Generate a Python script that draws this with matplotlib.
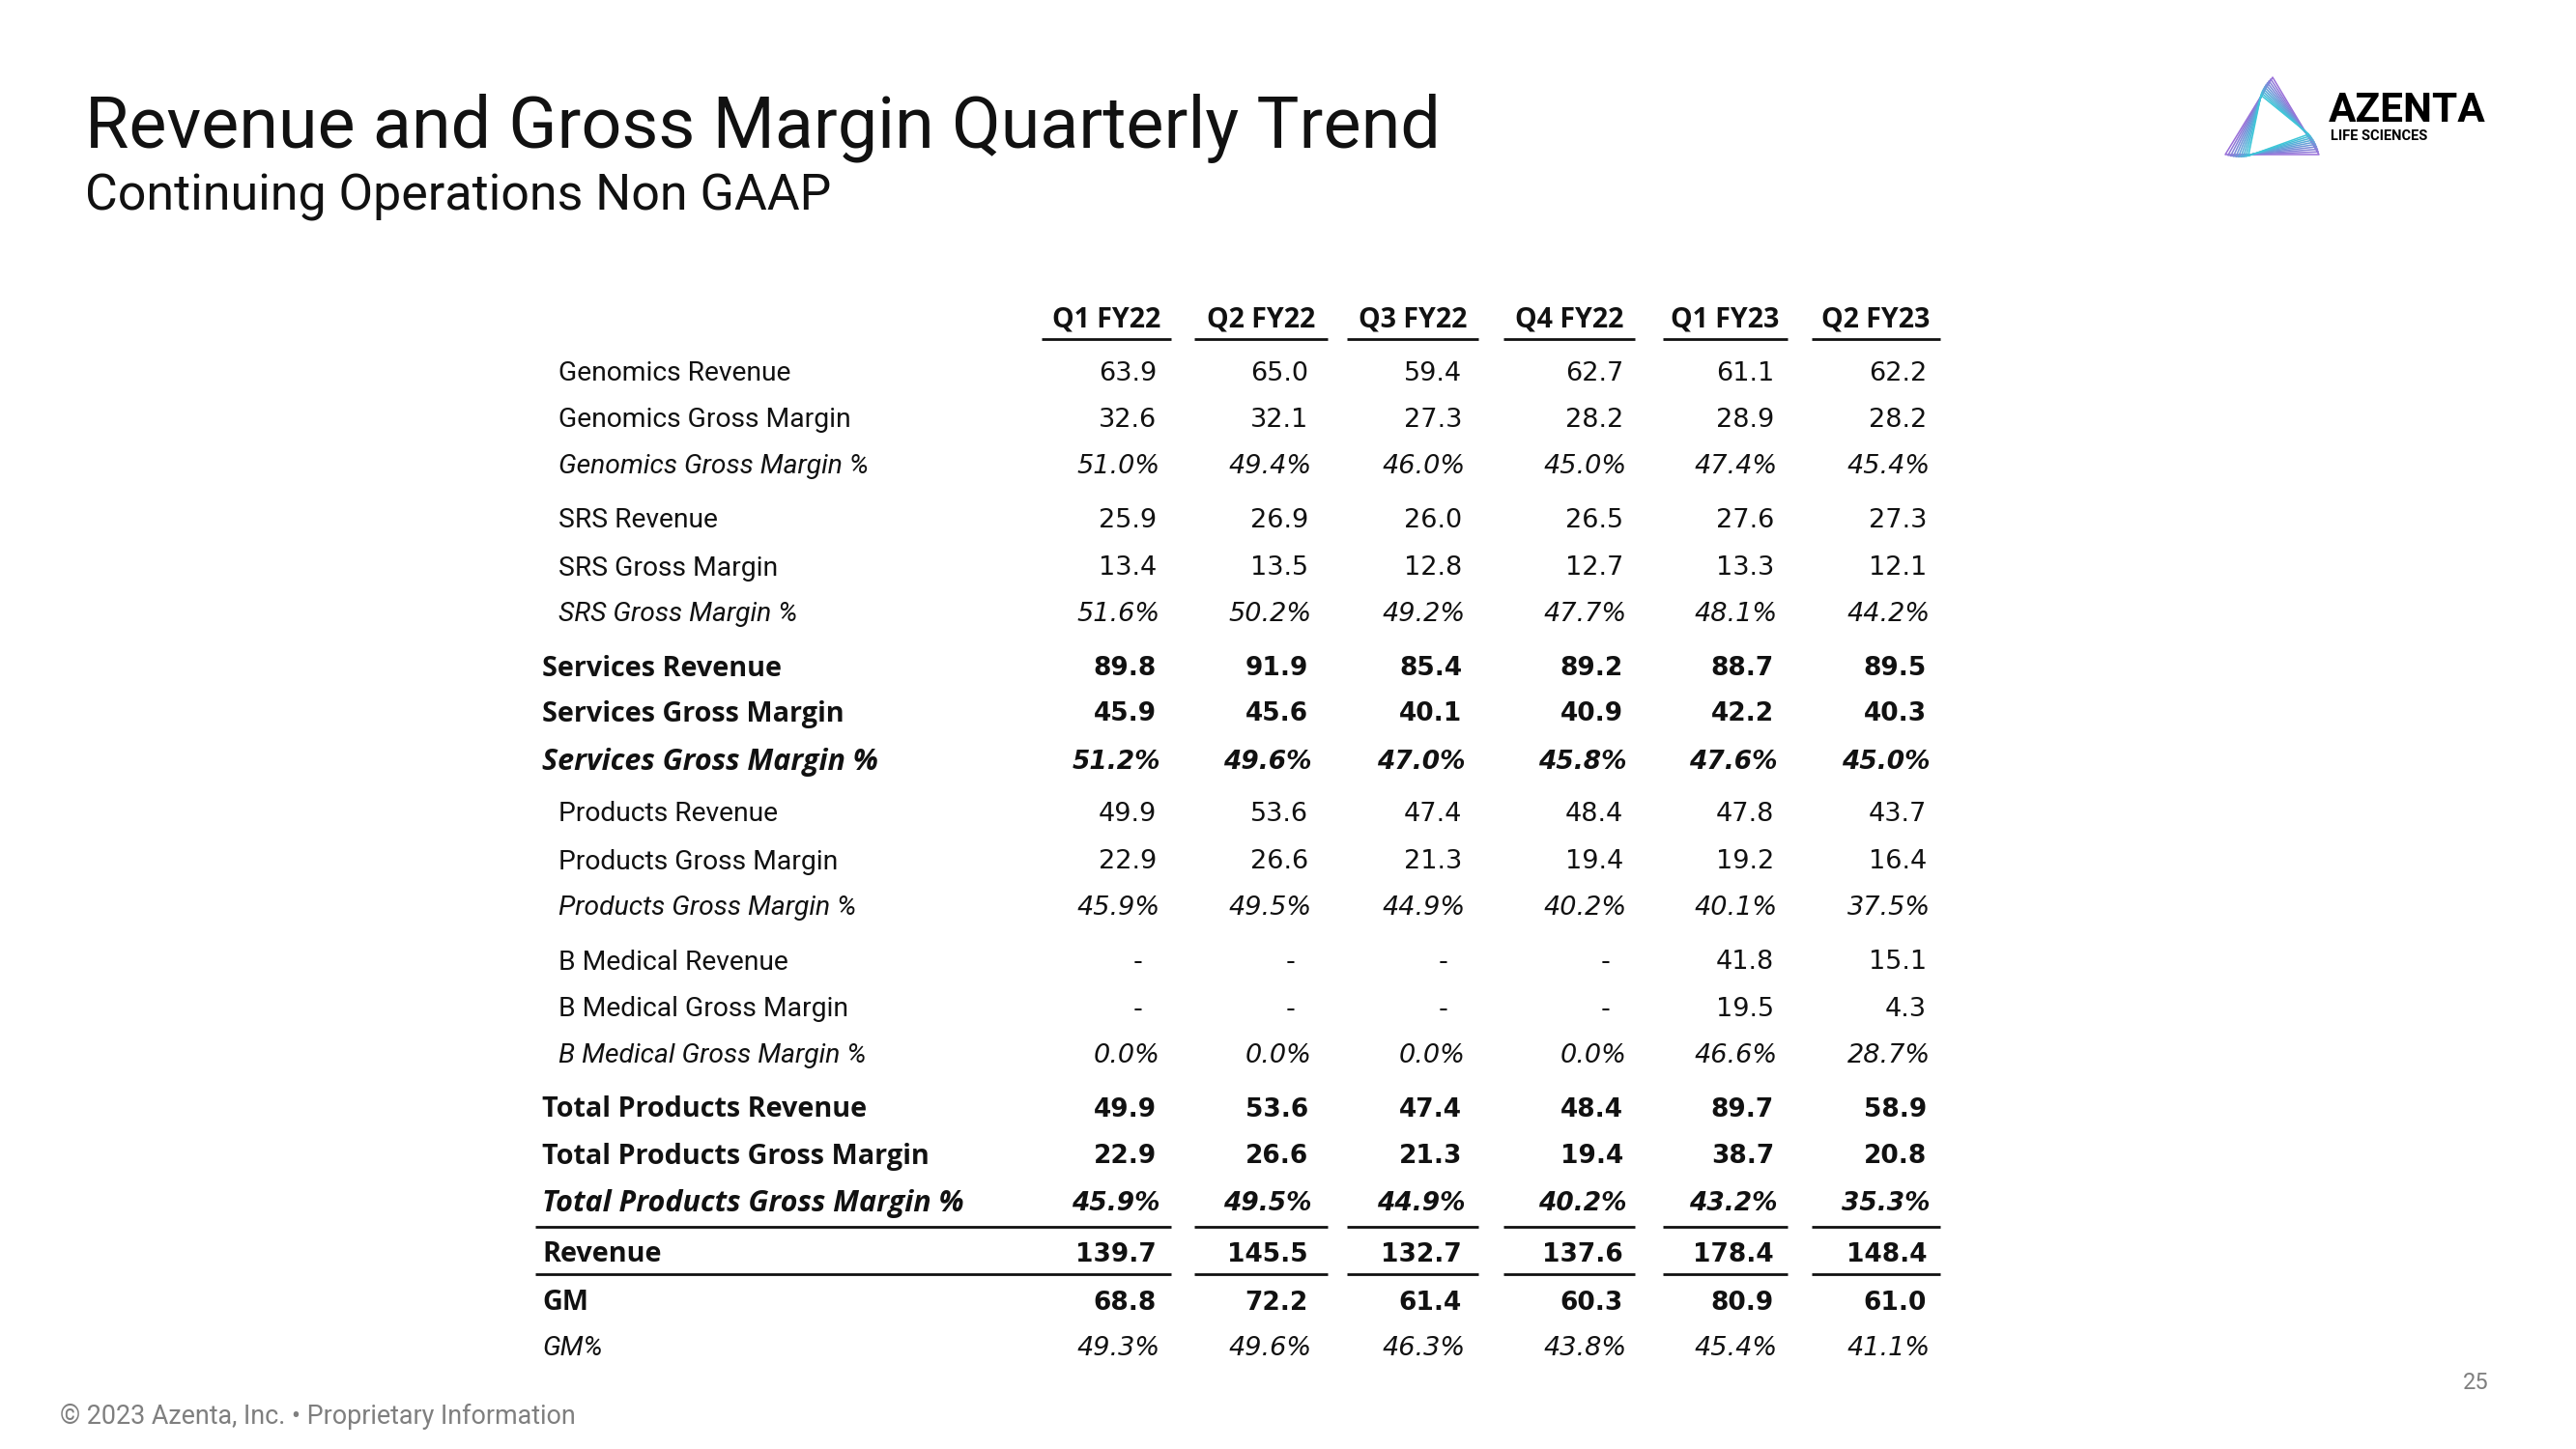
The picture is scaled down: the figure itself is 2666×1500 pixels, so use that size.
import numpy as np
import matplotlib
matplotlib.use("Agg")
import matplotlib.pyplot as plt
from matplotlib.patches import Polygon

plt.rcParams['font.family'] = ['Roboto', 'DejaVu Sans']

# ---------------- data ----------------
quarters = ["Q1 FY22", "Q2 FY22", "Q3 FY22", "Q4 FY22", "Q1 FY23", "Q2 FY23"]

genomics_rev = [63.9, 65.0, 59.4, 62.7, 61.1, 62.2]
genomics_gm = [32.6, 32.1, 27.3, 28.2, 28.9, 28.2]
genomics_gm_pct = [51.0, 49.4, 46.0, 45.0, 47.4, 45.4]
srs_rev = [25.9, 26.9, 26.0, 26.5, 27.6, 27.3]
srs_gm = [13.4, 13.5, 12.8, 12.7, 13.3, 12.1]
srs_gm_pct = [51.6, 50.2, 49.2, 47.7, 48.1, 44.2]
services_rev = [89.8, 91.9, 85.4, 89.2, 88.7, 89.5]
services_gm = [45.9, 45.6, 40.1, 40.9, 42.2, 40.3]
services_gm_pct = [51.2, 49.6, 47.0, 45.8, 47.6, 45.0]
products_rev = [49.9, 53.6, 47.4, 48.4, 47.8, 43.7]
products_gm = [22.9, 26.6, 21.3, 19.4, 19.2, 16.4]
products_gm_pct = [45.9, 49.5, 44.9, 40.2, 40.1, 37.5]
bmed_rev = [None, None, None, None, 41.8, 15.1]
bmed_gm = [None, None, None, None, 19.5, 4.3]
bmed_gm_pct = [0.0, 0.0, 0.0, 0.0, 46.6, 28.7]
tot_prod_rev = [49.9, 53.6, 47.4, 48.4, 89.7, 58.9]
tot_prod_gm = [22.9, 26.6, 21.3, 19.4, 38.7, 20.8]
tot_prod_gm_pct = [45.9, 49.5, 44.9, 40.2, 43.2, 35.3]
revenue = [139.7, 145.5, 132.7, 137.6, 178.4, 148.4]
gm = [68.8, 72.2, 61.4, 60.3, 80.9, 61.0]
gm_pct = [49.3, 49.6, 46.3, 43.8, 45.4, 41.1]

row_labels = [
    "Genomics Revenue", "Genomics Gross Margin", "Genomics Gross Margin %",
    "SRS Revenue", "SRS Gross Margin", "SRS Gross Margin %",
    "Services Revenue", "Services Gross Margin", "Services Gross Margin %",
    "Products Revenue", "Products Gross Margin", "Products Gross Margin %",
    "B Medical Revenue", "B Medical Gross Margin", "B Medical Gross Margin %",
    "Total Products Revenue", "Total Products Gross Margin", "Total Products Gross Margin %",
    "Revenue", "GM", "GM%",
]
row_values = [
    genomics_rev, genomics_gm, genomics_gm_pct,
    srs_rev, srs_gm, srs_gm_pct,
    services_rev, services_gm, services_gm_pct,
    products_rev, products_gm, products_gm_pct,
    bmed_rev, bmed_gm, bmed_gm_pct,
    tot_prod_rev, tot_prod_gm, tot_prod_gm_pct,
    revenue, gm, gm_pct,
]
# style: (is_percent, bold, italic, indented)
row_styles = [
    (False, False, False, True), (False, False, False, True), (True, False, True, True),
    (False, False, False, True), (False, False, False, True), (True, False, True, True),
    (False, True, False, False), (False, True, False, False), (True, True, True, False),
    (False, False, False, True), (False, False, False, True), (True, False, True, True),
    (False, False, False, True), (False, False, False, True), (True, False, True, True),
    (False, True, False, False), (False, True, False, False), (True, True, True, False),
    (False, True, False, False), (False, True, False, False), (True, False, True, False),
]

# ---------------- layout ----------------
W, H = 2666, 1500
fig = plt.figure(figsize=(W / 100, H / 100), dpi=100)
ax = fig.add_axes([0, 0, 1, 1])
ax.set_xlim(0, W)
ax.set_ylim(H, 0)
ax.axis("off")

TXT = "#111111"
GREY = "#7f7f7f"
LABEL_FONT = ['Roboto', 'DejaVu Sans']
BOLD_FONT = ['Open Sans', 'DejaVu Sans']
NUM_FONT = ['DejaVu Sans']

# title
ax.text(88, 133, "Revenue and Gross Margin Quarterly Trend", fontsize=53,
        color=TXT, va="center", ha="left")
ax.text(88, 204, "Continuing Operations Non GAAP", fontsize=37.4,
        color=TXT, va="center", ha="left")

# footer
ax.text(62, 1466, "\u00a9 2023 Azenta, Inc. \u2022 Proprietary Information",
        fontsize=19.4, color=GREY, va="center", ha="left")
ax.text(2562, 1432, "25", fontsize=17, color=GREY, va="center", ha="center")

# logo
cx, cy = 2352, 132
base = np.array([[2352, 80], [2303, 160], [2400, 160]], dtype=float)
c1 = np.array(matplotlib.colors.to_rgb("#9a6fd8"))
c2 = np.array(matplotlib.colors.to_rgb("#3ec7d8"))
n = 10
for k in range(n):
    ang = np.deg2rad(-2.2 * k)
    s = 1 - 0.035 * k
    R = np.array([[np.cos(ang), -np.sin(ang)], [np.sin(ang), np.cos(ang)]])
    pts = (base - [cx, cy]) * s
    pts = pts @ R.T + [cx, cy]
    col = c1 + (c2 - c1) * k / (n - 1)
    ax.add_patch(Polygon(pts, closed=True, fill=False, edgecolor=col,
                         linewidth=1.1, joinstyle="round"))
ax.text(2410, 114, "AZENTA", fontsize=30.5, fontweight="bold", color="#000000",
        va="center", ha="left")
ax.text(2412, 141, "LIFE SCIENCES", fontsize=10.5, fontweight="bold",
        color="#000000", va="center", ha="left")

# table geometry
seg = [(1078, 1212), (1236, 1374), (1394, 1530), (1556, 1692), (1721, 1850), (1875, 2008)]
num_right = [1197, 1354, 1513, 1680, 1836, 1994]
row_y = [387, 435, 483, 539, 588, 636, 692, 739, 789, 843, 892, 940,
         996, 1045, 1093, 1149, 1197, 1246, 1299, 1349, 1396]

# header
for q, (a, b) in zip(quarters, seg):
    ax.text((a + b) / 2, 331, q, fontsize=20.5, fontweight="bold", color=TXT,
            family=BOLD_FONT, ha="center", va="center")
    ax.plot([a, b], [351, 351], color=TXT, lw=2, solid_capstyle="butt")

# rows
for label, vals, (pct, bold, ital, indent), y in zip(row_labels, row_values, row_styles, row_y):
    weight = "bold" if bold else "normal"
    style = "italic" if ital else "normal"
    if bold:
        ax.text(561, y, label, fontsize=22 if ital else 20.7, fontweight="bold",
                fontstyle=style, family=BOLD_FONT, color=TXT, ha="left", va="center")
    else:
        ax.text(578 if indent else 561, y, label, fontsize=20.3, fontstyle=style,
                family=LABEL_FONT, color=TXT, ha="left", va="center")
    nfs = 19 if bold else 19.5
    for v, xr in zip(vals, num_right):
        if v is None:
            ax.text(xr - 14, y, "-", fontsize=nfs, fontweight=weight,
                    fontstyle=style, family=NUM_FONT, color=TXT,
                    ha="right", va="center")
        else:
            s = f"{v:.1f}%" if pct else f"{v:.1f}"
            ax.text(xr + (4 if pct else 0), y, s, fontsize=nfs, fontweight=weight,
                    fontstyle=style, family=NUM_FONT, color=TXT,
                    ha="right", va="center")

# lines around Revenue row
for ly in (1270, 1319):
    for i, (a, b) in enumerate(seg):
        ax.plot([554 if i == 0 else a, b], [ly, ly], color=TXT, lw=2,
                solid_capstyle="butt")

fig.savefig("out.png", dpi=100, facecolor="white")
